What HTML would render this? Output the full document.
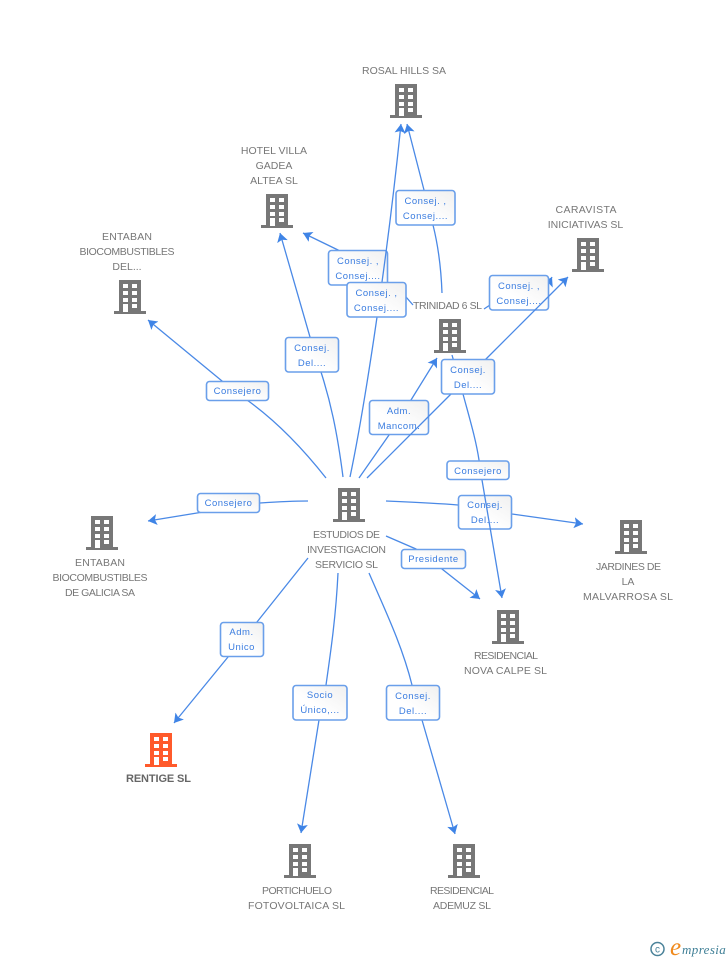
<!DOCTYPE html>
<html><head><meta charset="utf-8"><title>Diagram</title>
<style>
html,body{margin:0;padding:0;background:#fff}
svg{display:block}
.n{font:10.5px "Liberation Sans",sans-serif;fill:#777;text-anchor:middle}
.l{font:9.5px "Liberation Sans",sans-serif;fill:#3b7de0;text-anchor:middle;letter-spacing:.5px}
.e{fill:none;stroke:#4a89e6;stroke-width:1.3;marker-end:url(#a)}
.b{fill:url(#g);stroke:#6a9fea;stroke-width:1.6}
</style></head><body>
<svg width="728" height="960" viewBox="0 0 728 960" xmlns="http://www.w3.org/2000/svg">
<defs>
<linearGradient id="g" x1="1" y1="0" x2="0" y2="1"><stop offset="0" stop-color="#f0f0f0"/><stop offset=".6" stop-color="#fff"/></linearGradient>
<marker id="a" markerUnits="userSpaceOnUse" markerWidth="12" markerHeight="12" refX="9" refY="5.500" orient="auto" viewBox="0 0 12 11"><path d="M9 5.500L0 0L2 5.500L0 11Z" fill="#3f84e6"/></marker>
<path id="i" fill-rule="evenodd" d="M-11 0H11V31H16V34H-16V31H-11ZM-7 4V8H-2V4ZM2 4V8H7V4ZM-7 11V15H-2V11ZM2 11V15H7V11ZM-7 18V22H-2V18ZM2 18V22H7V18ZM-7 24V32H-2V24ZM2 24V28H7V24Z"/>
</defs>

<path class="e" d="M326 478C300 445 275 420 247 400L222 381L148 320"/>
<rect class="b" x="206.500" y="381.500" width="62" height="19" rx="3"/><text class="l" x="237.500" y="394">Consejero</text>

<path class="e" d="M308 501C290 501 275 502 260 503L197 513L148 521"/>
<rect class="b" x="197.500" y="493.500" width="62" height="19" rx="3"/><text class="l" x="228.500" y="506">Consejero</text>

<path class="e" d="M343 477C337 430 330 400 321 372L310 337L280 233"/>
<rect class="b" x="285.500" y="337.500" width="53" height="34.500" rx="3"/><text class="l" x="312" y="351">Consej.</text><text class="l" x="312" y="366">Del....</text>

<path class="e" d="M413 305L406 297L338 250L303 233"/>
<rect class="b" x="328.500" y="250.500" width="59" height="34.500" rx="3"/><text class="l" x="358" y="264">Consej. ,</text><text class="l" x="358" y="279">Consej....</text>

<path class="e" d="M350 477C362 420 385 280 401 124"/>
<rect class="b" x="347" y="282.500" width="59" height="34.500" rx="3"/><text class="l" x="376.500" y="296">Consej. ,</text><text class="l" x="376.500" y="311">Consej....</text>

<path class="e" d="M442 293C441 265 438 245 433 225L424 190L407 124"/>
<rect class="b" x="396" y="190.500" width="59" height="34.500" rx="3"/><text class="l" x="425.500" y="204">Consej. ,</text><text class="l" x="425.500" y="219">Consej....</text>

<path class="e" d="M484 309L490 305L540 300L552 277"/>
<rect class="b" x="489.500" y="275.500" width="59" height="34.500" rx="3"/><text class="l" x="519" y="289">Consej. ,</text><text class="l" x="519" y="304">Consej....</text>

<path class="e" d="M359 478L389 435L411 400L437 358"/>
<rect class="b" x="369.500" y="400.500" width="59" height="34" rx="3"/><text class="l" x="399" y="414">Adm.</text><text class="l" x="399" y="429">Mancom.</text>

<path class="e" d="M367 478L451 394L486 359L568 277"/>

<path class="e" d="M386 501C410 502 435 503 458 505L512 514L583 524"/>
<rect class="b" x="458.500" y="495.500" width="53" height="33.500" rx="3"/><text class="l" x="485" y="508">Consej.</text><text class="l" x="485" y="523">Del....</text>

<path class="e" d="M452 355L463 394C470 420 476 440 479 460L482 480L502 598"/>
<rect class="b" x="441.500" y="359.500" width="53" height="34.500" rx="3"/><text class="l" x="468" y="373">Consej.</text><text class="l" x="468" y="388">Del....</text>
<rect class="b" x="447" y="461" width="62" height="18.500" rx="3"/><text class="l" x="478" y="474">Consejero</text>

<path class="e" d="M386 536L416 549C425 555 435 562 442 569L480 599"/>
<rect class="b" x="401.500" y="549.500" width="64" height="19" rx="3"/><text class="l" x="433.500" y="562">Presidente</text>

<path class="e" d="M308 558L257 622L228 657L174 723"/>
<rect class="b" x="220.500" y="622.500" width="43" height="34" rx="3"/><text class="l" x="241.500" y="635">Adm.</text><text class="l" x="241.500" y="650">Unico</text>

<path class="e" d="M338 573C336 615 331 650 326 685L319 720L301 833"/>
<rect class="b" x="293" y="685.500" width="54" height="34.500" rx="3"/><text class="l" x="320" y="698">Socio</text><text class="l" x="320" y="713">Único,...</text>

<path class="e" d="M369 573C385 610 402 645 412 685L422 720L455 834"/>
<rect class="b" x="386.500" y="685.500" width="53" height="34.500" rx="3"/><text class="l" x="413" y="699">Consej.</text><text class="l" x="413" y="714">Del....</text>

<g fill="#777">
<use href="#i" x="406" y="84"/>
<use href="#i" x="277" y="194"/>
<use href="#i" x="130" y="280"/>
<use href="#i" x="588" y="238"/>
<use href="#i" x="450" y="319"/>
<use href="#i" x="349" y="488"/>
<use href="#i" x="102" y="516"/>
<use href="#i" x="631" y="520"/>
<use href="#i" x="508" y="610"/>
<use href="#i" x="300" y="844"/>
<use href="#i" x="464" y="844"/>
</g>
<use href="#i" x="161" y="733" fill="#ff5a2b"/>

<text class="n" x="404" y="74" textLength="84">ROSAL HILLS SA</text>
<text class="n" x="274" y="154">HOTEL VILLA</text><text class="n" x="274" y="169">GADEA</text><text class="n" x="274" y="184">ALTEA SL</text>
<text class="n" x="127" y="240" textLength="50">ENTABAN</text><text class="n" x="127" y="255" textLength="95">BIOCOMBUSTIBLES</text><text class="n" x="127" y="270">DEL...</text>
<text class="n" x="586" y="213" textLength="61">CARAVISTA</text><text class="n" x="585.500" y="228">INICIATIVAS SL</text>
<text class="n" x="447.500" y="309" textLength="69">TRINIDAD 6 SL</text>
<text class="n" x="346.500" y="538" textLength="67">ESTUDIOS DE</text><text class="n" x="346.500" y="553" textLength="79">INVESTIGACION</text><text class="n" x="346.500" y="568" textLength="63">SERVICIO SL</text>
<text class="n" x="100" y="566" textLength="50">ENTABAN</text><text class="n" x="100" y="581" textLength="95">BIOCOMBUSTIBLES</text><text class="n" x="100" y="596" textLength="70">DE GALICIA SA</text>
<text class="n" x="628.500" y="570" textLength="65">JARDINES DE</text><text class="n" x="628" y="585">LA</text><text class="n" x="628" y="600" textLength="90">MALVARROSA SL</text>
<text class="n" x="506" y="659" textLength="64">RESIDENCIAL</text><text class="n" x="505.500" y="674" textLength="83">NOVA CALPE SL</text>
<text class="n" x="158.500" y="782" textLength="65" style="font-weight:bold;font-size:11px;fill:#666">RENTIGE SL</text>
<text class="n" x="297" y="894" textLength="70">PORTICHUELO</text><text class="n" x="296.500" y="909" textLength="97">FOTOVOLTAICA SL</text>
<text class="n" x="462" y="894" textLength="64">RESIDENCIAL</text><text class="n" x="462" y="909" textLength="58">ADEMUZ SL</text>

<circle cx="657.500" cy="949" r="6.500" fill="none" stroke="#4a8299" stroke-width="1.500"/>
<text x="657.500" y="952.500" text-anchor="middle" style="font:10px 'Liberation Sans',sans-serif;fill:#4a8299">c</text>
<text x="670" y="955" style="font:italic 25px 'Liberation Serif',serif;fill:#f08a1d">e</text>
<text x="682" y="954" style="font:italic 13px 'Liberation Serif',serif;fill:#3f7f96;letter-spacing:.4px">mpresia</text>
</svg>
</body></html>
